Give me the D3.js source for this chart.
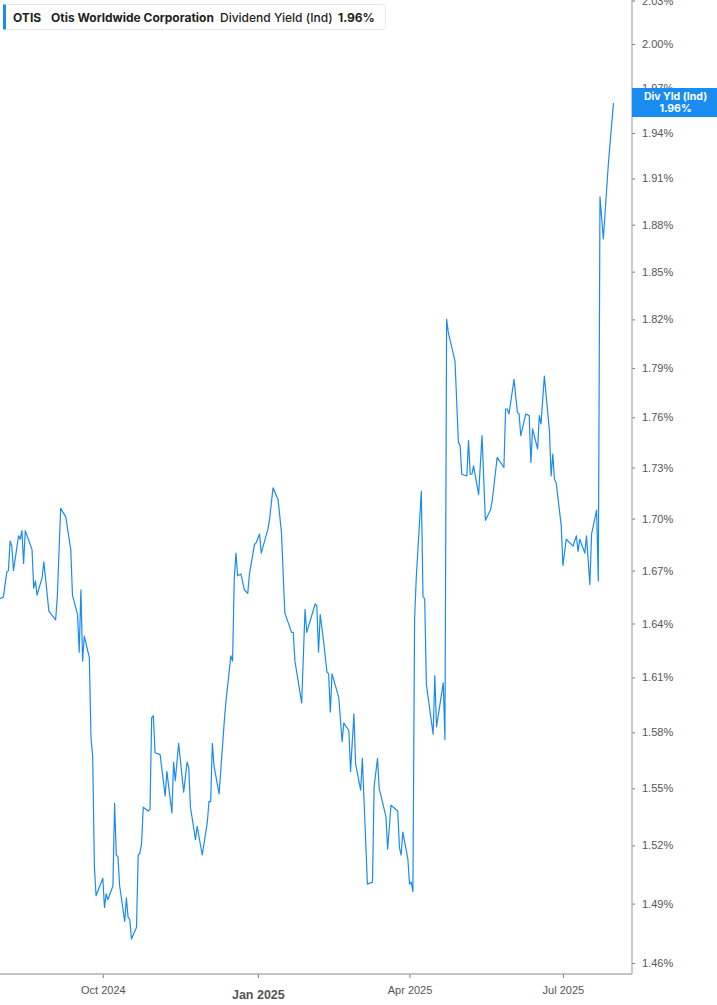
<!DOCTYPE html>
<html>
<head>
<meta charset="utf-8">
<script src="https://cdn.jsdelivr.net/npm/d3@7"></script>
<style>
  html, body { margin: 0; padding: 0; background: #fff; }
  svg { display: block; font-family: Inter, "Noto Sans", sans-serif; }
</style>
</head>
<body>
<div id="chart"></div>
<script>
/* OTIS dividend yield (ind) — single line on a log scale, right axis. */

var dates = [
  "2024-08-01","2024-08-03","2024-08-05","2024-08-06","2024-08-07","2024-08-08","2024-08-09","2024-08-12",
  "2024-08-13","2024-08-14","2024-08-15","2024-08-16","2024-08-20","2024-08-21","2024-08-22","2024-08-23",
  "2024-08-26","2024-08-27","2024-08-28","2024-08-30","2024-09-03","2024-09-04","2024-09-06","2024-09-09",
  "2024-09-12","2024-09-13","2024-09-16","2024-09-17","2024-09-18","2024-09-19","2024-09-20","2024-09-23",
  "2024-09-24","2024-09-25","2024-09-26","2024-09-27","2024-10-01","2024-10-02","2024-10-03","2024-10-04",
  "2024-10-07","2024-10-08","2024-10-09","2024-10-10","2024-10-11","2024-10-14","2024-10-15","2024-10-16",
  "2024-10-17","2024-10-18","2024-10-21","2024-10-22","2024-10-23","2024-10-24","2024-10-25","2024-10-28",
  "2024-10-29","2024-10-30","2024-10-31","2024-11-01","2024-11-04","2024-11-07","2024-11-08","2024-11-11",
  "2024-11-12","2024-11-13","2024-11-15","2024-11-18","2024-11-20","2024-11-21","2024-11-22","2024-11-25",
  "2024-11-26","2024-11-29","2024-12-02","2024-12-03","2024-12-04","2024-12-05","2024-12-06","2024-12-09",
  "2024-12-12","2024-12-13","2024-12-16","2024-12-17","2024-12-18","2024-12-19","2024-12-20","2024-12-22",
  "2024-12-24","2024-12-26","2024-12-27","2024-12-30","2024-12-31","2025-01-02","2025-01-03","2025-01-07",
  "2025-01-08","2025-01-10","2025-01-13","2025-01-15","2025-01-17","2025-01-21","2025-01-22","2025-01-23",
  "2025-01-27","2025-01-29","2025-01-30","2025-02-04","2025-02-05","2025-02-06","2025-02-07","2025-02-09",
  "2025-02-11","2025-02-12","2025-02-13","2025-02-14","2025-02-18","2025-02-20","2025-02-21","2025-02-24",
  "2025-02-25","2025-02-27","2025-02-28","2025-03-03","2025-03-04","2025-03-07","2025-03-10","2025-03-11",
  "2025-03-13","2025-03-14","2025-03-18","2025-03-19","2025-03-21","2025-03-25","2025-03-26","2025-03-27",
  "2025-03-28","2025-03-31","2025-04-01","2025-04-02","2025-04-03","2025-04-04","2025-04-05","2025-04-08",
  "2025-04-09","2025-04-10","2025-04-11","2025-04-15","2025-04-16","2025-04-17","2025-04-21","2025-04-22",
  "2025-04-23","2025-04-24","2025-04-28","2025-04-30","2025-05-01","2025-05-02","2025-05-05","2025-05-06",
  "2025-05-07","2025-05-08","2025-05-09","2025-05-12","2025-05-14","2025-05-16","2025-05-19","2025-05-20",
  "2025-05-23","2025-05-27","2025-05-28","2025-05-29","2025-05-30","2025-06-02","2025-06-04","2025-06-05",
  "2025-06-06","2025-06-09","2025-06-11","2025-06-12","2025-06-13","2025-06-16","2025-06-17","2025-06-18",
  "2025-06-20","2025-06-23","2025-06-24","2025-06-25","2025-06-26","2025-06-27","2025-06-30","2025-07-01",
  "2025-07-03","2025-07-07","2025-07-09","2025-07-10","2025-07-11","2025-07-14","2025-07-15","2025-07-17",
  "2025-07-18","2025-07-21","2025-07-22","2025-07-23","2025-07-25","2025-07-28","2025-07-31"
];

var yields = [
  1.654,1.655,1.669,1.670,1.687,1.684,1.670,1.690,
  1.688,1.693,1.674,1.693,1.682,1.660,1.664,1.656,
  1.666,1.675,1.666,1.647,1.642,1.655,1.706,1.701,
  1.682,1.656,1.645,1.624,1.659,1.619,1.633,1.621,
  1.577,1.567,1.509,1.494,1.503,1.488,1.495,1.492,
  1.499,1.542,1.515,1.514,1.499,1.481,1.493,1.483,
  1.482,1.472,1.478,1.515,1.516,1.521,1.540,1.538,
  1.539,1.588,1.589,1.569,1.568,1.546,1.559,1.537,
  1.564,1.554,1.574,1.548,1.564,1.561,1.540,1.523,
  1.530,1.515,1.532,1.543,1.543,1.574,1.562,1.547,
  1.585,1.596,1.622,1.619,1.665,1.680,1.667,1.668,
  1.659,1.657,1.668,1.685,1.686,1.691,1.680,1.694,
  1.700,1.718,1.711,1.692,1.646,1.635,1.635,1.619,
  1.596,1.648,1.635,1.651,1.650,1.624,1.645,1.630,
  1.613,1.612,1.591,1.612,1.599,1.575,1.585,1.581,
  1.559,1.590,1.563,1.549,1.566,1.500,1.501,1.551,
  1.566,1.550,1.535,1.518,1.541,1.538,1.519,1.515,
  1.527,1.513,1.500,1.501,1.496,1.643,1.666,1.716,
  1.655,1.654,1.606,1.579,1.611,1.583,1.607,1.576,
  1.820,1.812,1.794,1.745,1.743,1.726,1.725,1.746,
  1.726,1.726,1.731,1.714,1.749,1.699,1.705,1.710,
  1.736,1.730,1.765,1.765,1.762,1.783,1.763,1.762,
  1.749,1.762,1.761,1.733,1.753,1.741,1.761,1.756,
  1.785,1.752,1.725,1.738,1.723,1.721,1.696,1.673,
  1.688,1.684,1.690,1.681,1.688,1.680,1.690,1.662,
  1.691,1.705,1.664,1.898,1.871,1.920,1.960
];

var yTicks = [1.46,1.49,1.52,1.55,1.58,1.61,1.64,1.67,1.70,1.73,1.76,1.79,1.82,1.85,1.88,1.91,1.94,1.97,2.00,2.03];
var xTicks = ["2024-10-01","2025-01-01","2025-04-01","2025-07-01"];
var xTickLabels = ["Oct 2024","Jan 2025","Apr 2025","Jul 2025"];
var lastValue = 1.96;

var W = 717, H = 1005;
var plotR = 632, plotB = 974;
var blue = "#1a8cf0";
var parse = d3.timeParse("%Y-%m-%d");

var data = dates.map(function (d, i) { return { date: parse(d), v: yields[i] }; });

var x = d3.scaleTime()
  .domain([parse("2024-08-01"), parse("2025-08-11")])
  .range([0, plotR]);
var y = d3.scaleLog().domain([1.46, 2.00]).range([963, 44]);

var svg = d3.select("#chart").append("svg").attr("width", W).attr("height", H);

svg.append("defs").append("clipPath").attr("id", "plot")
  .append("rect").attr("x", 0).attr("y", 0).attr("width", plotR).attr("height", plotB);

// line
var line = d3.line().x(function (d) { return x(d.date); }).y(function (d) { return y(d.v); });
svg.append("path").datum(data)
  .attr("clip-path", "url(#plot)")
  .attr("fill", "none")
  .attr("stroke", blue)
  .attr("stroke-width", 1.2)
  .attr("stroke-linejoin", "round")
  .attr("d", line);

// right axis
var yAxis = d3.axisRight(y).tickValues(yTicks).tickSize(3).tickPadding(7)
  .tickFormat(function (d) { return d.toFixed(2) + "%"; });
var gy = svg.append("g").attr("transform", "translate(" + plotR + ",0)").call(yAxis);
gy.select(".domain").remove();
gy.selectAll(".tick line").attr("stroke", "#777");
gy.selectAll(".tick text").attr("fill", "#555").style("font-size", "11px");
svg.append("line").attr("x1", plotR).attr("x2", plotR).attr("y1", 0).attr("y2", plotB)
  .attr("stroke", "#a6a6a6").attr("stroke-width", 1.2);

// bottom axis
var xAxis = d3.axisBottom(x).tickValues(xTicks.map(parse)).tickSize(4).tickPadding(8)
  .tickFormat(function (d, i) { return xTickLabels[i]; });
var gx = svg.append("g").attr("transform", "translate(0," + plotB + ")").call(xAxis);
gx.select(".domain").remove();
gx.selectAll(".tick line").attr("stroke", "#777");
gx.selectAll(".tick text").attr("fill", "#555").style("font-size", "11px");
gx.selectAll(".tick text").filter(function (d, i) { return i === 1; })
  .style("font-weight", "700").style("font-size", "12.5px").attr("dy", "1.05em");
svg.append("line").attr("x1", 0).attr("x2", plotR).attr("y1", plotB).attr("y2", plotB)
  .attr("stroke", "#b0b0b0").attr("stroke-width", 1.5);

// last value tag
var tagY = y(lastValue);
var tag = svg.append("g");
tag.append("rect").attr("x", plotR).attr("y", tagY - 15).attr("width", W - plotR).attr("height", 29)
  .attr("fill", blue);
tag.append("text").attr("x", (plotR + W) / 2 + 1).attr("y", tagY - 3).attr("text-anchor", "middle")
  .attr("fill", "#fff").style("font-size", "10.5px").style("font-weight", "700").text("Div Yld (Ind)");
tag.append("text").attr("x", (plotR + W) / 2 + 1).attr("y", tagY + 9).attr("text-anchor", "middle")
  .attr("fill", "#fff").style("font-size", "10.5px").style("font-weight", "700").text(lastValue.toFixed(2) + "%");

// legend
var lg = svg.append("g");
lg.append("rect").attr("x", 3.5).attr("y", 4.5).attr("width", 382).attr("height", 25).attr("rx", 3)
  .attr("fill", "#fff").attr("stroke", "#e6e6e6");
lg.append("rect").attr("x", 3).attr("y", 4.5).attr("width", 3).attr("height", 25).attr("fill", blue);
var legendParts = [
  { t: "OTIS", x: 13, w: 700 },
  { t: "Otis Worldwide Corporation", x: 51, w: 700 },
  { t: "Dividend Yield (Ind)", x: 220, w: 500 },
  { t: lastValue.toFixed(2) + "%", x: 338, w: 700 }
];
legendParts.forEach(function (p) {
  lg.append("text").attr("x", p.x).attr("y", 21.5).attr("fill", "#222")
    .style("font-size", "12px").style("font-weight", p.w).text(p.t);
});
</script>
</body>
</html>
